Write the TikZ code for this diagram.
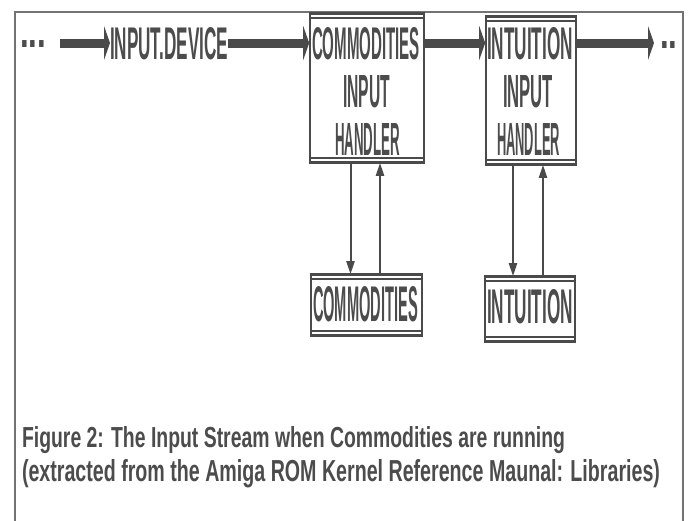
\documentclass[tikz,border=0pt]{standalone}
\usepackage{fontspec}
\setmainfont{Liberation Sans}
\usetikzlibrary{arrows.meta}
\definecolor{ink}{HTML}{4A4A4A}
\definecolor{txt}{HTML}{4C4C4C}
\newcommand\fitt[3]{\resizebox{#1pt}{#2pt}{#3}}
\newcommand\dotsx[1]{\scalebox{1.2}[1.8]{\fontsize{26}{26}\selectfont #1}}
\tikzset{
  lbl/.style={inner sep=0pt, outer sep=0pt, anchor=base west, text=txt, font=\bfseries},
  boxx/.style={draw=ink, line width=1.6pt, inner sep=0pt, minimum width=#1},
  dline/.style={draw=ink, line width=2.2pt},
  bigarrow/.style={draw=ink, line width=9pt, -{Triangle[length=6pt,width=34pt]}},
  thinarrow/.style={draw=ink, line width=2pt, -{Triangle[length=13pt,width=8pt]}},
  frame/.style={draw=black!55, line width=2.5pt}
}
\begin{document}
\begin{tikzpicture}[x=1pt,y=-1pt]
\useasboundingbox (0,0) rectangle (688,520);
% outer frame (open at bottom)
\draw[frame] (15,525) -- (15,12) -- (683,12) -- (683,525);

% boxes
\node[boxx=114pt, minimum height=148pt] (ch) at (367,88) {};
\node[boxx=90pt, minimum height=147pt] (ih) at (531,90.5) {};
\node[boxx=111pt, minimum height=60pt] (cb) at (366.5,305) {};
\node[boxx=90pt, minimum height=64pt] (ib) at (530,309) {};
\foreach \b in {ch,ih,cb,ib}{
  \draw[dline] (\b.north west) -- (\b.north east);
  \draw[dline] ([yshift=-4.5pt]\b.north west) -- ([yshift=-4.5pt]\b.north east);
  \draw[dline] (\b.south west) -- (\b.south east);
  \draw[dline] ([yshift=4.5pt]\b.south west) -- ([yshift=4.5pt]\b.south east);
}

% top row texts
\node[lbl] (dl) at (20,47) {\dotsx{...}};
\node[lbl] (idev) at (110,59) {\fitt{118}{32}{INPUT.DEVICE}};
\node[lbl] (ct1) at (312,59) {\fitt{108}{32}{COMMODITIES}};
\node[lbl] (ct2) at (343,107) {\fitt{47}{32}{INPUT}};
\node[lbl] (ct3) at (335,155) {\fitt{65}{32}{HANDLER}};
\node[lbl] (it1) at (487,59) {\fitt{86}{32}{INTUITION}};
\node[lbl] (it2) at (503,107) {\fitt{50}{32}{INPUT}};
\node[lbl] (it3) at (497,155) {\fitt{63}{32}{HANDLER}};
\node[lbl] (dr) at (660,48) {\dotsx{..}};

% lower box texts
\node[lbl] (cbt) at (313,321) {\fitt{105}{35}{COMMODITIES}};
\node[lbl] (ibt) at (487,323) {\fitt{86}{34}{INTUITION}};

% main stream arrows
\coordinate (a1s) at (60,43);
\coordinate (a4e) at (654,43);
\draw[bigarrow] (a1s) -- (idev.west |- a1s);
\draw[bigarrow] (idev.east |- a1s) -- (ch.west |- a1s);
\draw[bigarrow] (ch.east |- a1s) -- (ih.west |- a1s);
\draw[bigarrow] (ih.east |- a1s) -- (a4e);

% vertical arrows
\draw[thinarrow] ([xshift=-16.5pt]ch.south) -- ([xshift=-16.5pt]ch.south |- cb.north);
\draw[thinarrow] ([xshift=13pt]ch.south |- cb.north) -- ([xshift=13pt]ch.south);
\draw[thinarrow] ([xshift=-18pt]ih.south) -- ([xshift=-18pt]ih.south |- ib.north);
\draw[thinarrow] ([xshift=12pt]ih.south |- ib.north) -- ([xshift=12pt]ih.south);

% caption
\node[lbl] (cap1) at (22,447) {\fitt{543}{21}{Figure 2: The Input Stream when Commodities are running}};
\node[lbl] (cap2) at (22,481) {\fitt{638}{22}{(extracted from the Amiga ROM Kernel Reference Maunal: Libraries)}};
\end{tikzpicture}
\end{document}
